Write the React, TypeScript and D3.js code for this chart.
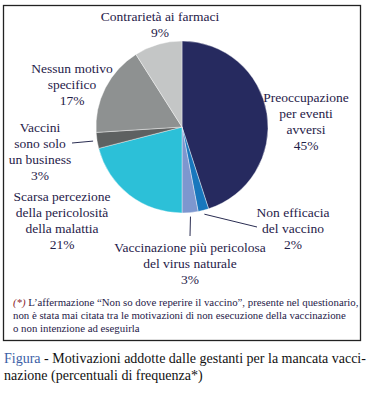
import React from 'react';
import * as d3 from 'd3';

// data
const categories = [
  'Preoccupazione per eventi avversi',
  'Non efficacia del vaccino',
  'Vaccinazione più pericolosa del virus naturale',
  'Scarsa percezione della pericolosità della malattia',
  'Vaccini sono solo un business',
  'Nessun motivo specifico',
  'Contrarietà ai farmaci',
];
const values = [45, 2, 3, 21, 3, 17, 9];
const colors = ['#262a5f', '#1877bd', '#7d97cf', '#2cc0d8', '#5e6161', '#8e9191', '#c4c6c6'];

// label lines and where they sit
const labelLines = [
  ['Preoccupazione', 'per eventi', 'avversi'],
  ['Non efficacia', 'del vaccino'],
  ['Vaccinazione più pericolosa', 'del virus naturale'],
  ['Scarsa percezione', 'della pericolosità', 'della malattia'],
  ['Vaccini', 'sono solo', 'un business'],
  ['Nessun motivo', 'specifico'],
  ['Contrarietà ai farmaci'],
];
const labelPos = [
  { x: 306, y: 102 },
  { x: 293, y: 217 },
  { x: 190, y: 252 },
  { x: 62, y: 201 },
  { x: 40, y: 132 },
  { x: 72, y: 73 },
  { x: 160, y: 21 },
];
// leader lines: end point of each line (start is on the slice edge)
const leaders: Record<number, [number, number]> = {
  1: [257, 227],
  2: [190, 236],
  4: [72, 143],
};

const footnote = [
  'L’affermazione “Non so dove reperire il vaccino”, presente nel questionario,',
  'non è stata mai citata tra le motivazioni di non esecuzione della vaccinazione',
  'o non intenzione ad eseguirla',
];

const W = 367;
const H = 397;
const cx = 182;
const cy = 127;
const R = 86;
const textColor = '#1f2149';
const font = "'Liberation Serif', 'Times New Roman', Times, 'DejaVu Serif', serif";

export default function App() {
  const pie = d3.pie<number>().sort(null).value((d) => d);
  const arcs = pie(values);
  const arc = d3.arc<d3.PieArcDatum<number>>().innerRadius(0).outerRadius(R);
  const outer = d3.arc<d3.PieArcDatum<number>>().innerRadius(R + 4).outerRadius(R + 4);

  return (
    <svg
      width={W}
      height={H}
      style={{ position: 'absolute', left: 0, top: 0, background: '#fff', fontFamily: font }}
    >
      <rect x={3.5} y={5.5} width={357} height={335} fill="none" stroke="#222" strokeWidth={1.3} />
      <g transform={`translate(${cx},${cy})`}>
        {arcs.map((a, i) => (
          <path key={i} d={arc(a) || ''} fill={colors[i]} stroke="#fff" strokeWidth={0.4} />
        ))}
        {Object.entries(leaders).map(([k, end]) => {
          const [sx, sy] = outer.centroid(arcs[+k]);
          return (
            <line
              key={k}
              x1={sx}
              y1={sy}
              x2={end[0] - cx}
              y2={end[1] - cy}
              stroke="#2a2d52"
              strokeWidth={1}
            />
          );
        })}
      </g>
      {labelLines.map((lines, i) => (
        <text
          key={i}
          x={labelPos[i].x}
          y={labelPos[i].y}
          textAnchor="middle"
          style={{ fontFamily: font, fontSize: 13.5 }}
          fill={textColor}
        >
          {[...lines, `${values[i]}%`].map((l, j) => (
            <tspan key={j} x={labelPos[i].x} dy={j === 0 ? 0 : 16}>
              {l}
            </tspan>
          ))}
        </text>
      ))}
      <g style={{ fontFamily: font, fontSize: 10.8 }} fill={textColor}>
        {footnote.map((l, j) => (
          <text key={j} x={13} y={306 + j * 13}>
            {j === 0 && (
              <tspan fontStyle="italic" fill="#8b1c2c">
                (*){' '}
              </tspan>
            )}
            {l}
          </text>
        ))}
      </g>
      <g style={{ fontFamily: font, fontSize: 14 }} fill="#111">
        <text x={4} y={363}>
          <tspan fill="#3b5ea6">Figura</tspan> - Motivazioni addotte dalle gestanti per la mancata vacci-
        </text>
        <text x={4} y={380}>
          nazione (percentuali di frequenza*)
        </text>
      </g>
    </svg>
  );
}
